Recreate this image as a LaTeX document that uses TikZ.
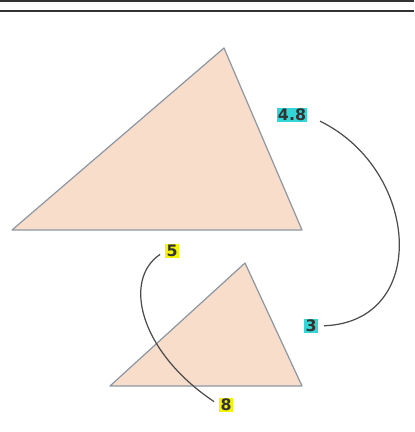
\documentclass[tikz,border=0pt]{standalone}
\usepackage{fontspec}
\setsansfont{DejaVu Sans}
\usetikzlibrary{positioning,calc}

\definecolor{peach}{HTML}{F9DDCB}
\definecolor{edgegray}{HTML}{8C98A4}
\definecolor{tagcyan}{HTML}{33D6D6}
\definecolor{tagyellow}{HTML}{F4F400}
\definecolor{rulegray}{HTML}{333333}

\begin{document}
\begin{tikzpicture}[x=0.02cm,y=-0.02cm,
  tri/.style={fill=peach,draw=edgegray,line width=0.7pt,line join=round},
  tag/.style={inner sep=0.6pt,font=\sffamily\bfseries\fontsize{9}{10}\selectfont,text=black!80},
  arc/.style={draw=black!70,line width=0.7pt,shorten <=0.12cm,shorten >=0.12cm}]

\useasboundingbox (0,0) rectangle (414,432);

% top rules
\draw[rulegray,line width=1.2pt] (0,1) -- (414,1);
\draw[rulegray,line width=1.6pt] (0,11) -- (414,11);

% triangles
\draw[tri] (12,230) -- (224,48) -- (302,230) -- cycle;
\draw[tri] (110,386) -- (245,263) -- (302,386) -- cycle;

% side labels
\node[tag,fill=tagcyan] (l48) at (292,115) {4.8};
\node[tag,fill=tagcyan] (l3) at (311,326) {3};
\node[tag,fill=tagyellow] (l5) at (172,251) {5};
\node[tag,fill=tagyellow] (l8) at (226,405) {8};

% matching sides
\draw[arc,shorten <=0.28cm] (l48.east) .. controls (420,170) and (430,322) .. (l3.east);
\draw[arc] (l5.west) .. controls (122,280) and (140,352) .. (l8.west);
\end{tikzpicture}
\end{document}
